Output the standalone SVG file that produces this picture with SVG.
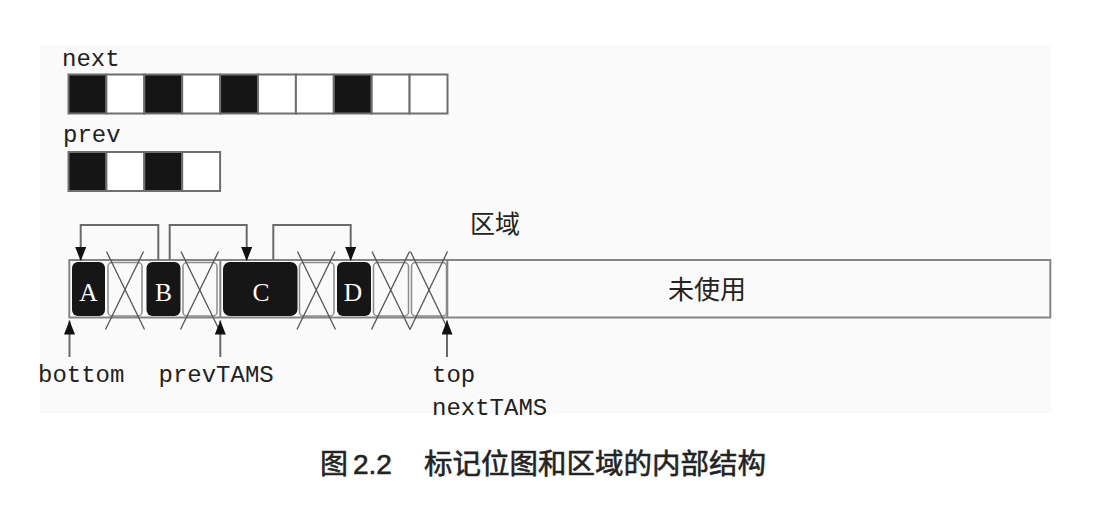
<svg xmlns="http://www.w3.org/2000/svg" width="1118" height="506" viewBox="0 0 1118 506">
<style>
.mono{font-family:"Liberation Mono","DejaVu Sans Mono",monospace;font-size:24px;fill:#222}
.cjk{font-family:"Noto Sans CJK SC",sans-serif;fill:#222}
.bit{stroke:#6e6e6e;stroke-width:2}
.on{fill:#151515}
.off{fill:#fff}
.obj{fill:#161616}
.lbl{font-family:"Liberation Serif",serif;font-size:25.5px;fill:#fff;text-anchor:middle}
.cell{fill:none;stroke:#8c8c8c;stroke-width:1.5}
.x{stroke:#555;stroke-width:1.3}
.conn{fill:none;stroke:#6a6a6a;stroke-width:2}
</style>
<defs>
<marker id="ah" markerUnits="userSpaceOnUse" markerWidth="15" markerHeight="11" refX="14" refY="5.5" orient="auto" viewBox="0 0 15 11">
<path d="M0,0 L14,5.5 L0,11 z" fill="#111"/>
</marker>
</defs>
<rect x="0" y="0" width="1118" height="506" fill="#fff"/>
<rect x="40" y="45" width="1011" height="368" fill="#fbfafa"/>

<g id="next-bitmap">
<text class="mono" x="62" y="66">next</text>
<rect class="bit on" x="68.5" y="74.5" width="37.9" height="39"/>
<rect class="bit off" x="106.4" y="74.5" width="37.9" height="39"/>
<rect class="bit on" x="144.3" y="74.5" width="37.9" height="39"/>
<rect class="bit off" x="182.2" y="74.5" width="37.9" height="39"/>
<rect class="bit on" x="220.1" y="74.5" width="37.9" height="39"/>
<rect class="bit off" x="258" y="74.5" width="37.9" height="39"/>
<rect class="bit off" x="295.9" y="74.5" width="37.9" height="39"/>
<rect class="bit on" x="333.8" y="74.5" width="37.9" height="39"/>
<rect class="bit off" x="371.7" y="74.5" width="37.9" height="39"/>
<rect class="bit off" x="409.6" y="74.5" width="37.9" height="39"/>
</g>

<g id="prev-bitmap">
<text class="mono" x="63" y="142">prev</text>
<rect class="bit on" x="68.5" y="152" width="37.9" height="39"/>
<rect class="bit off" x="106.4" y="152" width="37.9" height="39"/>
<rect class="bit on" x="144.3" y="152" width="37.9" height="39"/>
<rect class="bit off" x="182.2" y="152" width="37.9" height="39"/>
</g>

<g id="region">
<text class="cjk" x="470" y="233" font-size="25">区域</text>
<rect x="69.3" y="260" width="981" height="57.5" fill="none" stroke="#858585" stroke-width="2"/>
<line x1="220.3" y1="260" x2="220.3" y2="317.5" stroke="#858585" stroke-width="2"/>
<line x1="447.3" y1="260" x2="447.3" y2="317.5" stroke="#858585" stroke-width="2"/>
<text class="cjk" x="707" y="299" font-size="26" text-anchor="middle">未使用</text>
</g>

<g id="dead-cells">
<rect class="cell" x="108" y="262.5" width="34" height="53.5" rx="4"/>
<rect class="cell" x="183" y="262.5" width="34" height="53.5" rx="4"/>
<rect class="cell" x="299.5" y="262.5" width="34.5" height="53.5" rx="4"/>
<rect class="cell" x="373.5" y="262.5" width="35" height="53.5" rx="4"/>
<rect class="cell" x="411.5" y="262.5" width="35" height="53.5" rx="4"/>
<g class="x">
<line x1="106.5" y1="251.5" x2="144.5" y2="329.5"/><line x1="143.5" y1="251.5" x2="105.5" y2="329.5"/>
<line x1="181" y1="251.5" x2="219" y2="329.5"/><line x1="218.5" y1="251.5" x2="180.5" y2="329.5"/>
<line x1="297.5" y1="251.5" x2="335.5" y2="329.5"/><line x1="335" y1="251.5" x2="297" y2="329.5"/>
<line x1="372" y1="251.5" x2="410" y2="329.5"/><line x1="409.5" y1="251.5" x2="371.5" y2="329.5"/>
<line x1="410.5" y1="251.5" x2="448" y2="329.5"/><line x1="447.5" y1="251.5" x2="410" y2="329.5"/>
</g>
</g>

<g id="obj-A"><rect class="obj" x="72" y="262" width="33" height="54" rx="6"/><text class="lbl" x="88.5" y="300.5">A</text></g>
<g id="obj-B"><rect class="obj" x="146.5" y="262" width="34" height="54" rx="6"/><text class="lbl" x="163.5" y="300.5">B</text></g>
<g id="obj-C"><rect class="obj" x="223" y="262" width="74.5" height="54" rx="7"/><text class="lbl" x="261" y="300.5">C</text></g>
<g id="obj-D"><rect class="obj" x="337" y="262" width="34" height="54" rx="6"/><text class="lbl" x="353" y="300.5">D</text></g>

<g id="connectors">
<path class="conn" d="M158.3,260 V225 H80.7 V261" marker-end="url(#ah)"/>
<path class="conn" d="M169.7,260 V225 H246.7 V261" marker-end="url(#ah)"/>
<path class="conn" d="M273.3,260 V225 H350.7 V261" marker-end="url(#ah)"/>
<path class="conn" d="M69.5,357 V320.5" marker-end="url(#ah)"/>
<path class="conn" d="M220.3,357 V320.5" marker-end="url(#ah)"/>
<path class="conn" d="M447,357 V320.5" marker-end="url(#ah)"/>
</g>

<g id="pointer-labels">
<text class="mono" x="38" y="382">bottom</text>
<text class="mono" x="158.5" y="382">prevTAMS</text>
<text class="mono" x="432" y="382">top</text>
<text class="mono" x="432" y="415">nextTAMS</text>
</g>

<g id="caption">
<text class="cjk" font-size="28" fill="#2a2a2a" stroke="#2a2a2a" stroke-width="0.6" y="474"><tspan x="320">图</tspan><tspan x="353" font-family="Liberation Sans, sans-serif">2.2</tspan><tspan x="424" font-size="28.5">标记位图和区域的内部结构</tspan></text>
</g>
</svg>
